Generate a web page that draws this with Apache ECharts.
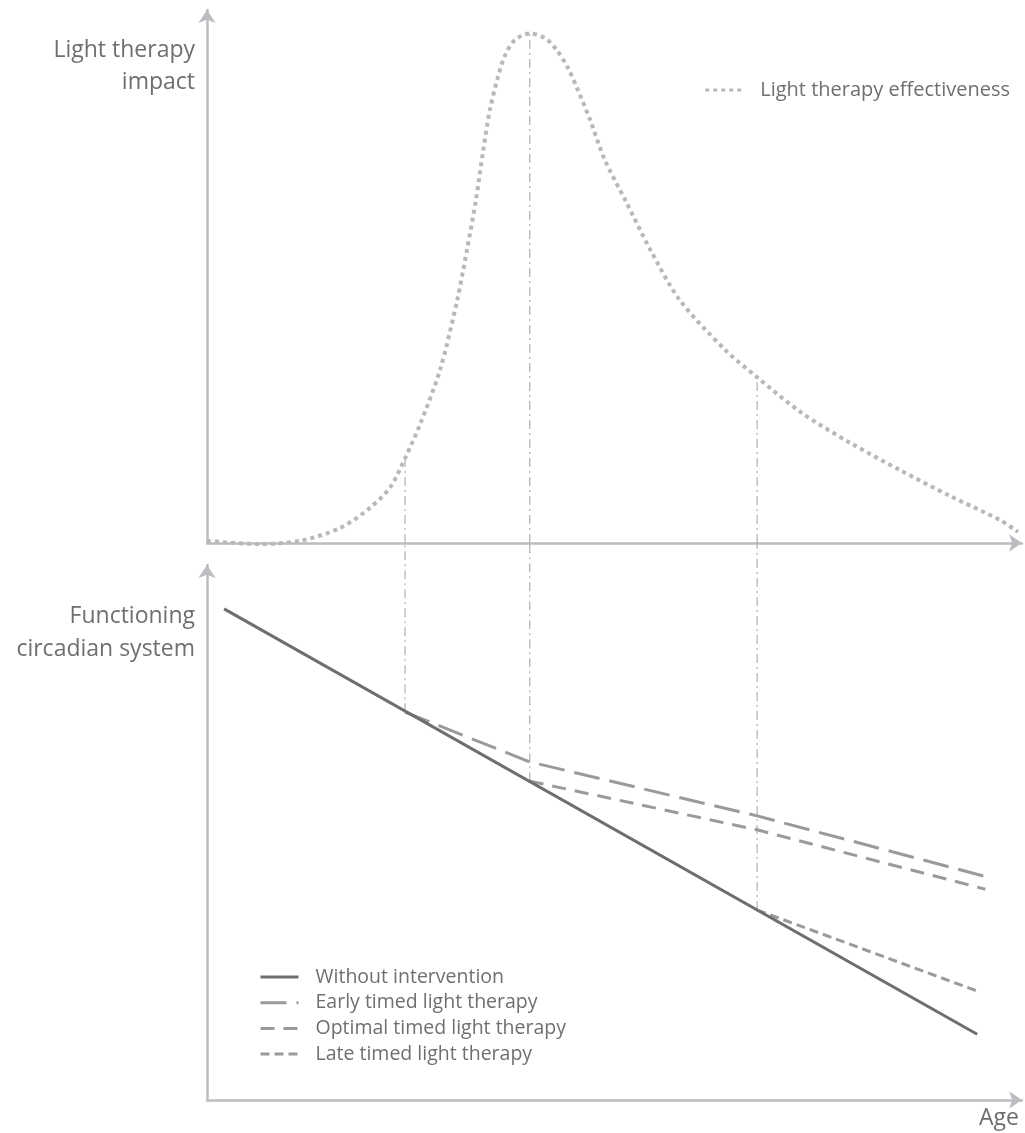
<!DOCTYPE html>
<html><head><meta charset="utf-8">
<script src="https://cdn.jsdelivr.net/npm/echarts@6/dist/echarts.min.js"></script>
<style>html,body{margin:0;padding:0;background:#fff}#c{width:1025px;height:1133px}</style>
</head><body><div id="c"></div>
<script>
// Top panel: light therapy effectiveness over age (arbitrary units 0-100)
const effectAge   = [0.0, 6.5, 11.4, 16.3, 20.0, 22.5, 24.3, 26.1, 28.6, 30.7, 31.9, 33.0, 33.9, 34.7, 35.6, 36.6, 37.8, 39.6, 41.5, 42.9, 44.3, 45.5, 47.0, 48.8, 51.3, 54.4, 58.0, 63.6, 67.5, 72.8, 78.9, 85.0, 91.2, 97.3, 99.5];
const effectValue = [0.4, -0.2, 0.4, 2.8, 6.6, 10.5, 15.9, 22.1, 32.5, 45.6, 55.0, 64.4, 73.7, 81.2, 86.9, 91.6, 94.4, 95.6, 94.7, 92.5, 89.1, 85.0, 79.4, 71.9, 64.4, 55.0, 45.6, 36.2, 31.1, 24.6, 18.8, 13.7, 8.8, 4.3, 2.1];
// Bottom panel: functioning circadian system
const withoutAge   = [2.1, 94.5];
const withoutValue = [91.8, 12.3];
const earlyAge     = [24.3, 39.6, 67.5, 95.7];
const earlyValue   = [72.5, 63.2, 53.1, 41.7];
const optimalAge   = [39.6, 67.5, 95.5];
const optimalValue = [59.6, 50.5, 39.4];
const lateAge      = [67.5, 94.8];
const lateValue    = [35.5, 20.2];
const panelJoin = 104.1; // bottom-panel value level of the top panel's age axis

const zip = (a, b) => a.map((v, i) => [v, b[i]]);
const therapies = [[earlyAge, earlyValue], [optimalAge, optimalValue], [lateAge, lateValue]];

const axisCol = '#bdbdc1';
const txtCol = '#6f6f73';
const FONT = 'Open Sans';

const baseAxis = (gi) => ({
  type: 'value', gridIndex: gi, min: 0, max: 100,
  axisLine: { show: true, onZero: false, symbol: ['none', 'arrow'], symbolSize: [13, 13], lineStyle: { color: axisCol, width: 2.5 } },
  axisTick: { show: false }, axisLabel: { show: false }, splitLine: { show: false }
});

const vertStyle = { color: '#b0b0b4', width: 1.2, type: [9, 4, 2, 4] };
const vertSeries = [];
therapies.forEach(([ages, vals]) => {
  const a = ages[0];
  const top = effectValue[effectAge.indexOf(a)];
  vertSeries.push({ type: 'line', xAxisIndex: 0, yAxisIndex: 0, data: [[a, 0], [a, top]], symbol: 'none', silent: true, clip: false, lineStyle: vertStyle, z: 1 });
  vertSeries.push({ type: 'line', xAxisIndex: 1, yAxisIndex: 1, data: [[a, vals[0]], [a, panelJoin]], symbol: 'none', silent: true, clip: false, lineStyle: vertStyle, z: 1 });
});

const label = (text, x, y, align) => ({ type: 'text', x: x, y: y, silent: true,
  style: { text: text, fill: txtCol, font: '23px "Open Sans"', align: align || 'right', verticalAlign: 'middle' } });

const chart = echarts.init(document.getElementById('c'), null, { renderer: 'canvas' });
chart.setOption({
  animation: false,
  backgroundColor: '#ffffff',
  grid: [
    { left: 207, right: 3, top: 10, height: 533 },
    { left: 207, right: 3, top: 565, height: 535 }
  ],
  xAxis: [baseAxis(0), baseAxis(1)],
  yAxis: [baseAxis(0), baseAxis(1)],
  legend: [
    { data: ['Light therapy effectiveness'], right: 10, top: 75, itemWidth: 40, itemHeight: 14,
      itemStyle: { opacity: 0 }, lineStyle: { width: 3 },
      textStyle: { color: txtCol, fontSize: 20, fontFamily: FONT, padding: [0, 0, 0, 10] } },
    { data: ['Without intervention', 'Early timed light therapy', 'Optimal timed light therapy', 'Late timed light therapy'],
      orient: 'vertical', left: 254, top: 962, itemWidth: 38, itemHeight: 14, itemGap: 5.7,
      itemStyle: { opacity: 0 }, lineStyle: { width: 3 },
      textStyle: { color: txtCol, fontSize: 19.5, fontFamily: FONT, padding: [0, 0, 0, 12] } }
  ],
  graphic: [
    label('Light therapy', 195, 50),
    label('impact', 195, 82),
    label('Functioning', 195, 616),
    label('circadian system', 195, 649),
    label('Age', 979, 1118, 'left')
  ],
  series: vertSeries.concat([
    { name: 'Light therapy effectiveness', type: 'line', xAxisIndex: 0, yAxisIndex: 0, data: zip(effectAge, effectValue), smooth: 0.3, symbol: 'none', clip: false,
      lineStyle: { color: '#b8b8bb', width: 4, type: [4, 4] }, itemStyle: { color: '#b8b8bb' }, z: 3 },
    { name: 'Without intervention', type: 'line', xAxisIndex: 1, yAxisIndex: 1, data: zip(withoutAge, withoutValue), symbol: 'none',
      lineStyle: { color: '#6e6e72', width: 3 }, itemStyle: { color: '#6e6e72' }, z: 4 },
    { name: 'Early timed light therapy', type: 'line', xAxisIndex: 1, yAxisIndex: 1, data: zip(earlyAge, earlyValue), symbol: 'none',
      lineStyle: { color: '#9a9a9d', width: 3, type: [26, 10] }, itemStyle: { color: '#9a9a9d' }, z: 3 },
    { name: 'Optimal timed light therapy', type: 'line', xAxisIndex: 1, yAxisIndex: 1, data: zip(optimalAge, optimalValue), symbol: 'none',
      lineStyle: { color: '#9a9a9d', width: 3, type: [14, 9] }, itemStyle: { color: '#9a9a9d' }, z: 3 },
    { name: 'Late timed light therapy', type: 'line', xAxisIndex: 1, yAxisIndex: 1, data: zip(lateAge, lateValue), symbol: 'none',
      lineStyle: { color: '#9a9a9d', width: 3, type: [9, 5] }, itemStyle: { color: '#9a9a9d' }, z: 3 }
  ])
});
</script></body></html>
